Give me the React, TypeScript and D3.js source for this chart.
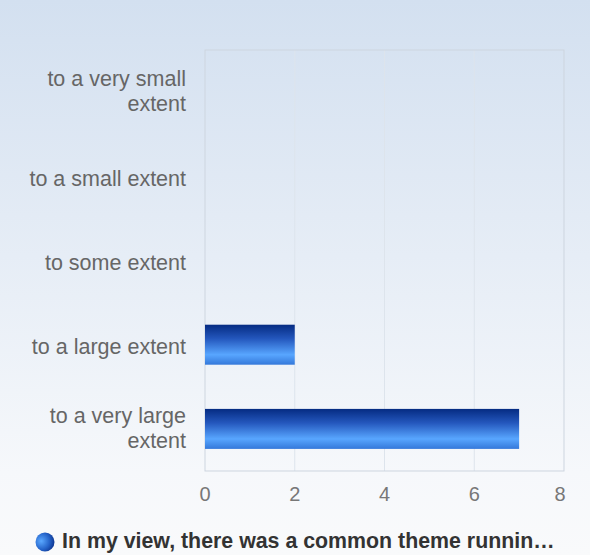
import React from "react";
import * as d3 from "d3";

const categories = [
  ["to a very small", "extent"],
  ["to a small extent"],
  ["to some extent"],
  ["to a large extent"],
  ["to a very large", "extent"],
];
const values = [0, 0, 0, 2, 7];
const ticks = [0, 2, 4, 6, 8];
const legendLabel = "In my view, there was a common theme runnin…";

const W = 590;
const H = 555;
const margin = { top: 50, right: 26, bottom: 84, left: 205 };

export default function App() {
  const x = d3
    .scaleLinear()
    .domain([0, 8])
    .range([margin.left, W - margin.right]);
  const y = d3
    .scaleBand<number>()
    .domain(d3.range(categories.length))
    .range([margin.top, H - margin.bottom]);
  const barH = y.bandwidth() * 0.475;
  const font = "Arial, 'Liberation Sans', sans-serif";

  return (
    <div style={{ position: "absolute", left: 0, top: 0 }}>
      <svg width={W} height={H} style={{ display: "block" }}>
        <defs>
          <linearGradient id="bg" x1="0" y1="0" x2="0" y2="1">
            <stop offset="0" stopColor="#d3e0f0" />
            <stop offset="0.85" stopColor="#f6f8fb" />
            <stop offset="1" stopColor="#f9fafb" />
          </linearGradient>
          <linearGradient id="bar" x1="0" y1="0" x2="0" y2="1">
            <stop offset="0" stopColor="#052b82" />
            <stop offset="0.35" stopColor="#2457bd" />
            <stop offset="0.75" stopColor="#58a6ff" />
            <stop offset="1" stopColor="#3478da" />
          </linearGradient>
          <radialGradient id="dot" cx="0.3" cy="0.45" r="0.75">
            <stop offset="0" stopColor="#5aa8ff" />
            <stop offset="0.6" stopColor="#2462c8" />
            <stop offset="1" stopColor="#0a2f88" />
          </radialGradient>
        </defs>
        <rect width={W} height={H} fill="url(#bg)" />
        {/* grid lines */}
        {ticks.slice(1, -1).map((t) => (
          <line
            key={t}
            x1={x(t)}
            x2={x(t)}
            y1={margin.top}
            y2={H - margin.bottom}
            stroke="#dde4ec"
          />
        ))}
        <rect
          x={margin.left}
          y={margin.top}
          width={x(8) - x(0)}
          height={H - margin.bottom - margin.top}
          fill="none"
          stroke="#cdd5df"
        />
        {values.map((v, i) =>
          v > 0 ? (
            <rect
              key={i}
              x={x(0)}
              y={y(i)! + (y.bandwidth() - barH) / 2}
              width={x(v) - x(0)}
              height={barH}
              fill="url(#bar)"
            />
          ) : null,
        )}
        {categories.map((lines, i) => {
          const cy = y(i)! + y.bandwidth() / 2;
          const n = lines.length;
          return (
            <text
              key={i}
              x={186}
              textAnchor="end"
              fontFamily={font}
              fontSize={21.5}
              fill="#666"
            >
              {lines.map((l, j) => (
                <tspan key={j} x={186} y={cy + 9.5 - (n - 1) * 15.5 + j * 25}>
                  {l}
                </tspan>
              ))}
            </text>
          );
        })}
        {ticks.map((t) => (
          <text
            key={t}
            x={t === 8 ? x(t) - 4 : x(t)}
            y={501}
            textAnchor="middle"
            fontFamily={font}
            fontSize={20}
            fill="#777"
          >
            {t}
          </text>
        ))}
        <circle cx={45} cy={542} r={9.5} fill="url(#dot)" />
        <text
          x={62}
          y={548}
          fontFamily={font}
          fontSize={21.35}
          fontWeight="bold"
          fill="#333"
        >
          {legendLabel}
        </text>
      </svg>
    </div>
  );
}
